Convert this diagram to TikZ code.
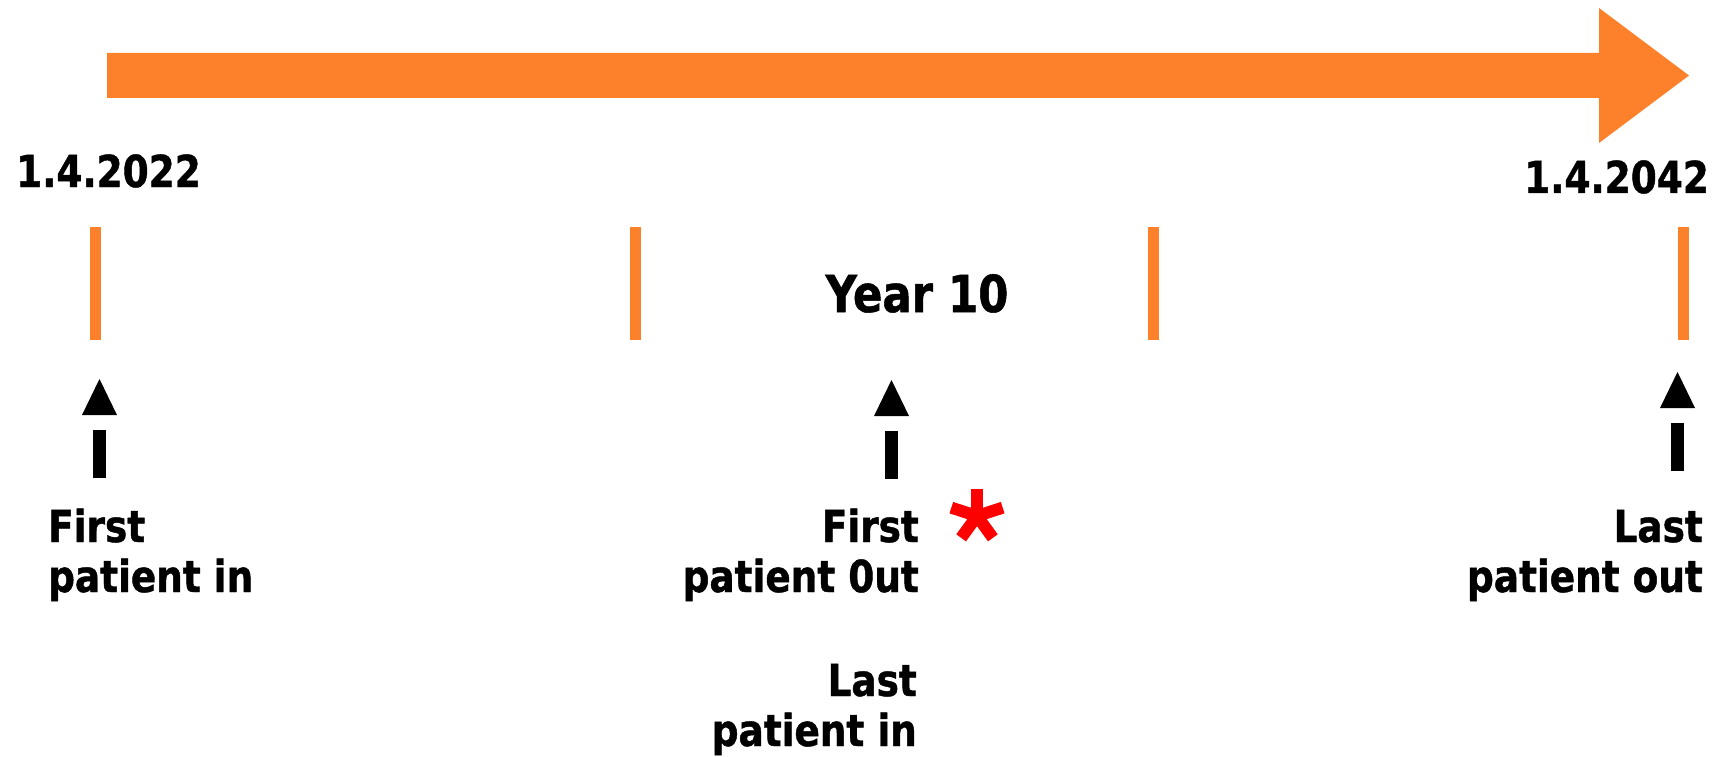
\documentclass[tikz,border=0pt]{standalone}
\usepackage{fontspec}
\newfontfamily\lblfont{DejaVu Sans}[FakeStretch=0.85, BoldFeatures={FakeBold=1}]
\definecolor{tlorange}{RGB}{253,128,42}
\begin{document}
\begin{tikzpicture}[x=1pt,y=-1pt,
  lbl/.style={font=\lblfont\bfseries\fontsize{44}{50}\selectfont, inner sep=0pt, text=black},
  biglbl/.style={lbl, font=\lblfont\bfseries\fontsize{51}{58}\selectfont},
  tickbar/.style={fill=tlorange},
  upmark/.style={fill=black},
  star/.style={draw=red, line width=12pt}]
\useasboundingbox (0,0) rectangle (1727,757);
% main time arrow
\fill[tlorange] (107,53) -- (1599,53) -- (1599,8) -- (1689,75.5) -- (1599,143) -- (1599,98) -- (107,98) -- cycle;
% ticks
\foreach \cx in {95,635.5,1153.5,1683}
  \fill[tickbar] (\cx-5.5,227) rectangle (\cx+5.5,340);
% up arrows
\foreach \cx/\tt/\bt in {99.5/379/430, 891.5/380/431, 1677.5/372/423}{
  \fill[upmark] (\cx-17.5,\tt+36) -- (\cx,\tt) -- (\cx+17.5,\tt+36) -- cycle;
  \fill[upmark] (\cx-6.5,\bt) rectangle (\cx+6.5,\bt+48);
}
% labels (base anchor = baseline of last line)
\node[lbl, anchor=base west] (d1) at (16,187) {1.4.2022};
\node[lbl, anchor=base east] (d2) at (1709,193) {1.4.2042};
\node[biglbl, anchor=base] (y10) at (917,312) {Year 10};
\node[lbl, anchor=base west, align=left] (fpi) at (48,592) {First\\patient in};
\node[lbl, anchor=base east, align=right] (fpo) at (919,592) {First\\patient 0ut};
\node[lbl, anchor=base east, align=right] (lpi) at (917,746) {Last\\patient in};
\node[lbl, anchor=base east, align=right] (lpo) at (1703,592) {Last\\patient out};
% asterisk
\coordinate (ast) at (977,516);
\foreach \a in {90,18,162,-54,-126}
  \draw[star] (ast) -- ++(\a:27pt);
\fill[red] (ast) circle (6.5pt);
\end{tikzpicture}
\end{document}
